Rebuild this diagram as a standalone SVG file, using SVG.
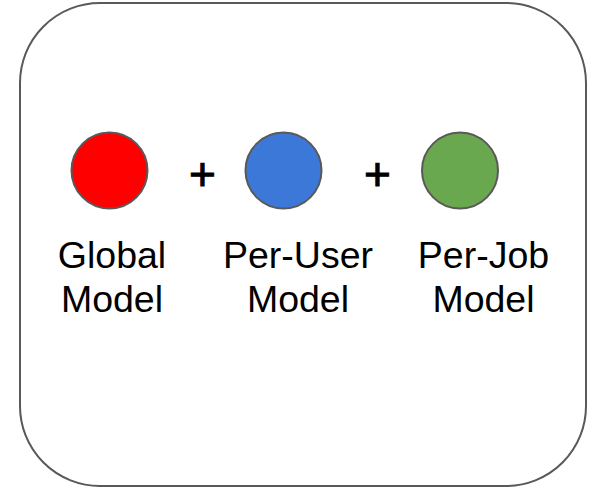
<svg xmlns="http://www.w3.org/2000/svg" width="591" height="488" viewBox="0 0 591 488">
<style>
.frame{fill:#ffffff;stroke:#595959;stroke-width:2}
.dot{stroke:#595959;stroke-width:2}
.lbl{font-family:"Liberation Sans",Arial,sans-serif;font-size:37.5px;fill:#000000;text-anchor:middle}
.plus{font-family:"Liberation Sans",Arial,sans-serif;font-size:46px;fill:#000000;text-anchor:middle;stroke:#000000;stroke-width:1}
</style>
<rect width="591" height="488" fill="#ffffff"/>
<g id="frame"><rect class="frame" x="20" y="3" width="566" height="483" rx="80" ry="80"/></g>
<g id="global">
<circle class="dot" cx="109.5" cy="170.5" r="38" fill="#ff0000"/>
<text class="lbl" x="112" y="268">Global</text>
<text class="lbl" x="112" y="312">Model</text>
</g>
<g id="peruser">
<circle class="dot" cx="283.5" cy="170.5" r="38" fill="#3c78d8"/>
<text class="lbl" x="298" y="268">Per-User</text>
<text class="lbl" x="298" y="312">Model</text>
</g>
<g id="perjob">
<circle class="dot" cx="460" cy="170.5" r="38" fill="#6aa84f"/>
<text class="lbl" x="483.5" y="268">Per-Job</text>
<text class="lbl" x="483.5" y="312">Model</text>
</g>
<g id="connectors">
<text class="plus" x="202.5" y="190">+</text>
<text class="plus" x="377.5" y="190">+</text>
</g>
</svg>
